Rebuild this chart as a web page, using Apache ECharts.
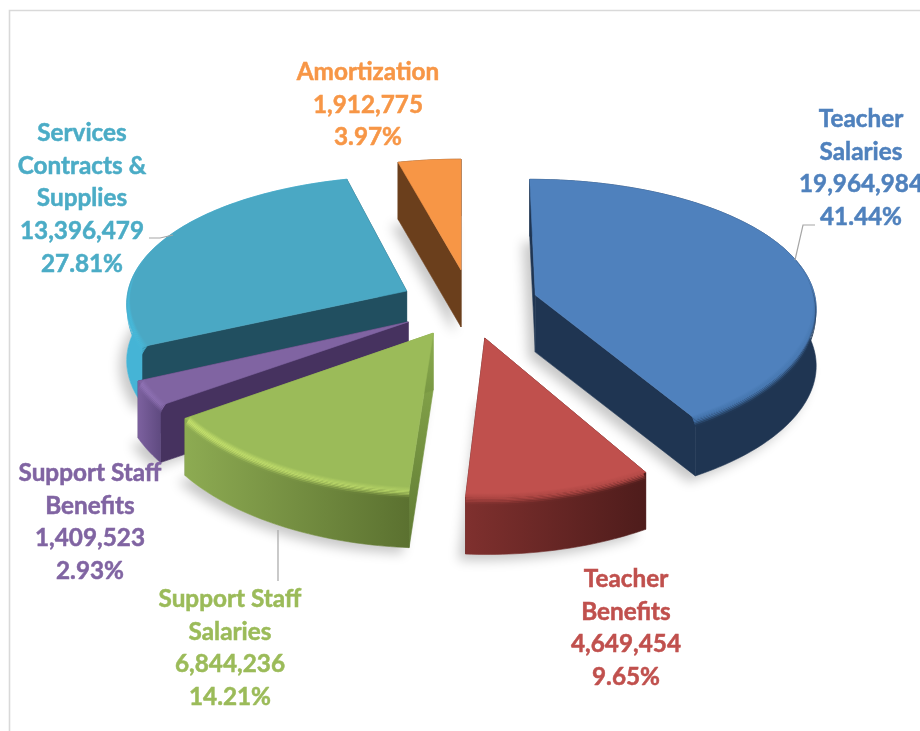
<!DOCTYPE html>
<html>
<head>
<meta charset="utf-8">
<style>html,body{margin:0;padding:0;background:#fff}#c{width:920px;height:731px}</style>
<script src="https://cdn.jsdelivr.net/npm/echarts@6/dist/echarts.min.js"></script>
</head>
<body>
<div id="c"></div>
<script>
// ---- data ----
const nameLines = [
  ['Teacher', 'Salaries'],
  ['Teacher', 'Benefits'],
  ['Support Staff', 'Salaries'],
  ['Support Staff', 'Benefits'],
  ['Services', 'Contracts &', 'Supplies'],
  ['Amortization']
];
const values = [19964984, 4649454, 6844236, 1409523, 13396479, 1912775];
const valueLabels = ['19,964,984', '4,649,454', '6,844,236', '1,409,523', '13,396,479', '1,912,775'];
const percentLabels = ['41.44%', '9.65%', '14.21%', '2.93%', '27.81%', '3.97%'];

// ---- styling and layout (not data) ----
const explodeX = [75, 23.4, -27.4, -52.4, -55, 0];
const explodeY = [-32, 58, 48, 25, -41, -88];
const labelColors = ['#4f81bd', '#c0504d', '#9bbb59', '#8064a2', '#4bacc6', '#f79646'];
const looks = [
  { top: '#4f81bd', hl: '#4272aa', wallL: '#1f3552', wallR: '#1f3552', faceA: '#1f3552', faceB: '#1f3552' },
  { top: '#c0504d', hl: '#aa4441', wallL: '#7f302e', wallR: '#4e1c1b', faceA: '#4e1c1b', faceB: '#4e1c1b' },
  { top: '#9bbb59', hl: '#c4e06c', wallL: '#8dab52', wallR: '#5b7130', faceA: '#8cad4f', faceB: '#5f7a33' },
  { top: '#8064a2', hl: '#8f72b5', wallL: '#7c619f', wallR: '#5f4a80', faceA: '#46325f', faceB: '#46325f' },
  { top: '#4aa8c4', hl: '#45bddf', wallL: '#45b4d6', wallR: '#45b4d6', faceA: '#214f60', faceB: '#214f60' },
  { top: '#f79646', hl: '#f79646', wallL: '#6b3f1c', wallR: '#6b3f1c', faceA: '#6b3f1c', faceB: '#6b3f1c' }
];
const labelCentres = [[861, 119], [626, 579], [230, 599], [90, 473], [82, 133], [368, 72]];
const leaderLines = [
  [[795, 260], [803, 225], [815, 225]],
  [[149, 238], [160, 238], [173, 235]],
  [[278, 530], [278, 581]]
];
const VX = 461, HORIZON = -800, DIST = 1110, PERSP = 0.000425, X_PERSP = 0.7;
const R = 282, THICK = 57, BEVEL_R = 7, BEVEL_Z = 8, STRIPS = 10;
const LINE_H = 32.8, FONT = 'bold 24.3px Lato, "Open Sans", sans-serif';

// ---- geometry, derived from the values ----
const total = values.reduce((a, b) => a + b, 0);
const slices = [];
let acc = 0;
values.forEach((v, i) => {
  const a0 = acc / total * 2 * Math.PI;
  acc += v;
  const a1 = acc / total * 2 * Math.PI;
  slices.push({ i, a0, a1, ax: explodeX[i], ay: explodeY[i], mid: (a0 + a1) / 2 });
});
function proj(s, r, th, z) {
  const X = s.ax + r * Math.sin(th), Y = s.ay - r * Math.cos(th);
  const w = 1 - PERSP * Y;
  return [VX + X / Math.pow(w, X_PERSP), HORIZON + DIST / w + z];
}
function steps(from, to) { return Math.max(4, Math.ceil((to - from) / 0.02)); }
function arc(s, r, z, from, to) {
  const n = steps(from, to), pts = [];
  for (let k = 0; k <= n; k++) pts.push(proj(s, r, from + (to - from) * k / n, z));
  return pts;
}
// the rounded rim tapers away towards the back of the pie
const RIM_LIMIT = Math.acos(0.3);
function rimFade(th) { return Math.min(1, Math.max(0, (0.3 - Math.cos(th)) / 0.7)); }
function rimArc(s, t, from, to) {
  const n = steps(from, to), pts = [];
  for (let k = 0; k <= n; k++) {
    const th = from + (to - from) * k / n, f = rimFade(th);
    pts.push(proj(s, R - BEVEL_R * (1 - t) * f, th, BEVEL_Z * Math.pow(t, 1.5) * f));
  }
  return pts;
}
function hex(c) { return [1, 3, 5].map(k => parseInt(c.substr(k, 2), 16)); }
function mix(a, b, t) {
  const A = hex(a), B = hex(b);
  return '#' + A.map((v, k) => Math.round(v + (B[k] - v) * t).toString(16).padStart(2, '0')).join('');
}
function smooth(t) { return t * t * (3 - 2 * t); }
function hGrad(a, b) {
  return new echarts.graphic.LinearGradient(0, 0, 1, 0, [{ offset: 0, color: a }, { offset: 1, color: b }]);
}
function vGrad(a, b) {
  return new echarts.graphic.LinearGradient(0, 0, 0, 1, [{ offset: 0, color: a }, { offset: 1, color: b }]);
}
function poly(points, fill) {
  return { type: 'polygon', shape: { points }, style: { fill, stroke: fill, lineWidth: 0.6 }, silent: true };
}
function sideFace(s, th, look) {
  return poly([proj(s, 0, th, 0), proj(s, R, th, 0), proj(s, R, th, THICK), proj(s, 0, th, THICK)],
    vGrad(look.faceA, look.faceB));
}
function renderShadow(params, api) {
  const s = slices[api.value(0)];
  const pts = [proj(s, 0, s.a0, THICK)].concat(arc(s, R, THICK, s.a0, s.a1));
  return {
    type: 'polygon', shape: { points: pts }, silent: true,
    style: { fill: '#fff', shadowBlur: 12, shadowColor: 'rgba(0,0,0,0.22)', shadowOffsetX: -7, shadowOffsetY: 6 }
  };
}
function renderSlice(params, api) {
  const s = slices[api.value(0)], look = looks[s.i];
  const children = [sideFace(s, s.a0, look), sideFace(s, s.a1, look)];
  const wallTop = arc(s, R, 0, s.a0, s.a1);
  const wallBot = arc(s, R, THICK, s.a0, s.a1).reverse();
  children.push(poly(wallTop.concat(wallBot), hGrad(look.wallL, look.wallR)));
  children.push(poly([proj(s, 0, s.a0, 0)].concat(wallTop), look.top));
  const from = Math.max(s.a0, RIM_LIMIT), to = Math.min(s.a1, 2 * Math.PI - RIM_LIMIT);
  if (to > from) {
    for (let k = 0; k < STRIPS; k++) {
      const t0 = k / STRIPS, t1 = (k + 1) / STRIPS, tm = (t0 + t1) / 2;
      const a = tm < 0.55 ? mix(look.top, look.hl, smooth(tm / 0.55)) : mix(look.hl, look.wallL, smooth((tm - 0.55) / 0.45));
      const b = tm < 0.55 ? mix(look.top, look.hl, smooth(tm / 0.55) * 0.5) : mix(mix(look.top, look.hl, 0.5), look.wallR, smooth((tm - 0.55) / 0.45));
      const fill = hGrad(a, b);
      children.push({
        type: 'polygon', silent: true,
        shape: { points: rimArc(s, t0, from, to).concat(rimArc(s, t1, from, to).reverse()) },
        style: { fill }
      });
    }
  }
  return { type: 'group', children };
}
function renderLabel(params, api) {
  const i = api.value(0);
  const lines = nameLines[i].concat([valueLabels[i], percentLabels[i]]);
  return {
    type: 'group',
    children: lines.map((t, k) => ({
      type: 'text', silent: true,
      style: {
        x: labelCentres[i][0], y: labelCentres[i][1] + k * LINE_H, text: t, font: FONT,
        fill: labelColors[i], stroke: labelColors[i], lineWidth: 0.5, align: 'center', verticalAlign: 'middle'
      }
    }))
  };
}
function renderLeader(params, api) {
  return {
    type: 'polyline', silent: true,
    shape: { points: leaderLines[api.value(0)] },
    style: { stroke: '#a6a6a6', lineWidth: 1.2, fill: null }
  };
}

const drawOrder = slices.slice().sort((p, q) => p.ay - q.ay).map(s => s.i);

const chart = echarts.init(document.getElementById('c'), null, { renderer: 'canvas' });
chart.setOption({
  animation: false,
  backgroundColor: '#fff',
  graphic: [{
    type: 'rect', silent: true, z: 0,
    shape: { x: 9.5, y: 10.5, width: 1000, height: 1000 },
    style: { fill: null, stroke: '#d9d9d9', lineWidth: 1.6 }
  }],
  series: [
    { type: 'custom', coordinateSystem: 'none', z: 1, renderItem: renderShadow, data: drawOrder.map(i => [i, values[i]]) },
    { type: 'custom', coordinateSystem: 'none', z: 2, renderItem: renderSlice, data: drawOrder.map(i => [i, values[i]]) },
    { type: 'custom', coordinateSystem: 'none', z: 3, renderItem: renderLeader, data: leaderLines.map((l, i) => [i]) },
    { type: 'custom', coordinateSystem: 'none', z: 4, renderItem: renderLabel, data: values.map((v, i) => [i, v]) }
  ]
});
</script>
</body>
</html>
